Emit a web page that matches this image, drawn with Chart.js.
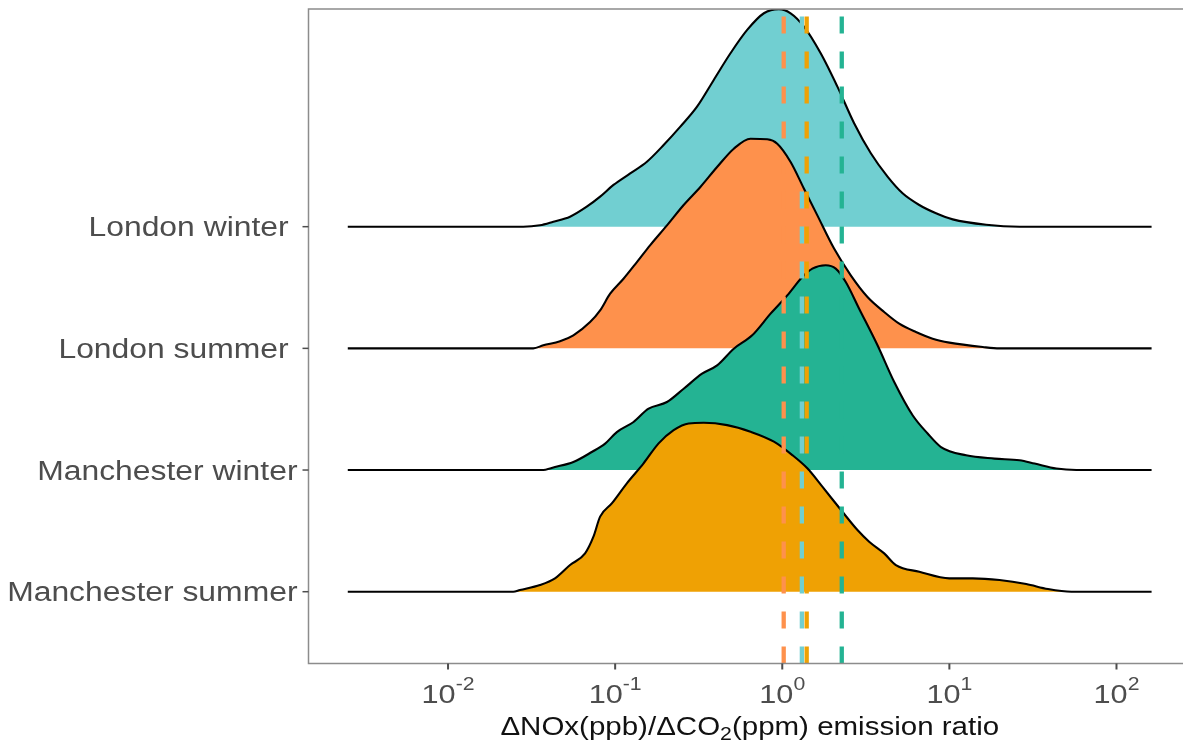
<!DOCTYPE html>
<html>
<head>
<meta charset="utf-8">
<script src="https://cdn.jsdelivr.net/npm/chart.js@4.4.1/dist/chart.umd.min.js"></script>
<style>
  html, body { margin: 0; padding: 0; background: #fff; }
  canvas { display: block; }
</style>
</head>
<body>
<canvas id="ridges" width="1183" height="744"></canvas>
<script>
// rows, top to bottom
const groups = ["London winter ", "London summer ", "Manchester winter", "Manchester summer"];
const rowBase = [3, 2, 1, 0];
const fillColors = ["#71cfd1", "#fe914c", "#24b393", "#efa104"];

// median ΔNOx/ΔCO2 per group (dashed lines)
const medianRatio = [1.31, 1.02, 2.27, 1.40];

// ridge outlines: log10(ratio) and density height in row units
const lwLog = [-2.60, -1.55, -1.45, -1.37, -1.27, -1.17, -1.09, -1.01, -0.91, -0.81, -0.71, -0.61, -0.51, -0.41, -0.31, -0.21, -0.11, -0.02, 0.05, 0.13, 0.23, 0.33, 0.43, 0.53, 0.63, 0.72, 0.82, 0.92, 1.02, 1.22, 1.42, 2.21];
const lwDen = [0, 0, 0.012, 0.041, 0.082, 0.164, 0.247, 0.343, 0.438, 0.534, 0.671, 0.822, 0.986, 1.206, 1.425, 1.617, 1.754, 1.787, 1.754, 1.644, 1.425, 1.151, 0.850, 0.603, 0.411, 0.274, 0.178, 0.110, 0.060, 0.016, 0, 0];

const lsLog = [-2.60, -1.49, -1.43, -1.33, -1.25, -1.15, -1.09, -1.03, -0.95, -0.87, -0.79, -0.69, -0.59, -0.49, -0.39, -0.29, -0.19, -0.09, -0.03, 0.05, 0.13, 0.21, 0.31, 0.41, 0.51, 0.61, 0.70, 0.80, 0.90, 1.00, 1.20, 1.30, 2.21];
const lsDen = [0, 0, 0.025, 0.058, 0.107, 0.216, 0.312, 0.449, 0.572, 0.709, 0.849, 1.011, 1.178, 1.326, 1.490, 1.641, 1.723, 1.718, 1.682, 1.532, 1.312, 1.093, 0.820, 0.600, 0.422, 0.299, 0.203, 0.134, 0.079, 0.047, 0.011, 0, 0];

const mwLog = [-2.60, -1.44, -1.36, -1.25, -1.14, -1.06, -0.99, -0.89, -0.80, -0.69, -0.59, -0.48, -0.39, -0.29, -0.18, -0.07, 0.03, 0.12, 0.18, 0.26, 0.32, 0.38, 0.46, 0.57, 0.67, 0.78, 0.87, 0.95, 1.10, 1.27, 1.42, 1.51, 1.64, 1.76, 2.21];
const mwDen = [0, 0, 0.025, 0.066, 0.148, 0.217, 0.312, 0.395, 0.504, 0.559, 0.668, 0.792, 0.860, 0.997, 1.107, 1.285, 1.435, 1.586, 1.655, 1.683, 1.655, 1.545, 1.326, 1.025, 0.723, 0.450, 0.300, 0.189, 0.121, 0.094, 0.080, 0.053, 0.012, 0, 0];

const msLog = [-2.60, -1.61, -1.57, -1.45, -1.36, -1.27, -1.18, -1.13, -1.09, -1.02, -0.93, -0.83, -0.74, -0.65, -0.56, -0.47, -0.33, -0.19, -0.05, 0.06, 0.15, 0.24, 0.36, 0.45, 0.52, 0.61, 0.68, 0.82, 1.00, 1.14, 1.30, 1.46, 1.59, 1.73, 2.21];
const msDen = [0, 0, 0.014, 0.055, 0.110, 0.219, 0.315, 0.452, 0.617, 0.726, 0.891, 1.055, 1.219, 1.328, 1.383, 1.388, 1.369, 1.315, 1.233, 1.123, 1.014, 0.863, 0.657, 0.507, 0.411, 0.315, 0.219, 0.164, 0.110, 0.110, 0.096, 0.063, 0.022, 0, 0];

const xTickExp = [-2, -1, 0, 1, 2];

const ridgeLogs = [lwLog, lsLog, mwLog, msLog];
const ridgeDens = [lwDen, lsDen, mwDen, msDen];

const FONT = '"Liberation Sans", Arial, sans-serif';
const SX = 1.18; // labels are set a little wide

function wideText(ctx, str, x, y, align) {
    ctx.save();
    ctx.translate(x, y);
    ctx.scale(SX, 1);
    ctx.textAlign = align;
    ctx.fillText(str, 0, 0);
    ctx.restore();
}

function wideWidth(ctx, str) {
    return ctx.measureText(str).width * SX;
}

// upper rows go to the back, lower rows are painted over them
const datasets = groups.map((g, i) => ({
    label: g.trim(),
    data: ridgeLogs[i].map((lx, k) => ({ x: lx, y: rowBase[i] + ridgeDens[i][k] })),
    order: rowBase[i],
    borderColor: "#000",
    borderWidth: 2.1,
    backgroundColor: fillColors[i],
    fill: { value: rowBase[i] },
    pointRadius: 0,
    cubicInterpolationMode: "monotone"
}));

const ridgeFrame = {
    id: "ridgeFrame",
    afterDatasetsDraw(chart) {
        const { ctx, chartArea: area, scales: { x, y } } = chart;
        ctx.save();

        // median lines
        ctx.lineWidth = 4.3;
        ctx.setLineDash([17, 18]);
        medianRatio.forEach((r, i) => {
            const px = x.getPixelForValue(Math.log10(r));
            ctx.strokeStyle = fillColors[i];
            ctx.beginPath();
            ctx.moveTo(px, area.bottom);
            ctx.lineTo(px, area.top);
            ctx.stroke();
        });
        ctx.setLineDash([]);

        // panel outline
        ctx.strokeStyle = "#8c8c8c";
        ctx.lineWidth = 1.5;
        ctx.beginPath();
        ctx.moveTo(area.right, area.top);
        ctx.lineTo(area.left, area.top);
        ctx.lineTo(area.left, area.bottom);
        ctx.lineTo(area.right, area.bottom);
        ctx.stroke();

        // y ticks and group names
        ctx.strokeStyle = "#4d4d4d";
        ctx.fillStyle = "#4d4d4d";
        ctx.font = "27px " + FONT;
        ctx.textBaseline = "alphabetic";
        groups.forEach((g, i) => {
            const py = y.getPixelForValue(rowBase[i]);
            ctx.beginPath();
            ctx.moveTo(area.left - 6, py);
            ctx.lineTo(area.left, py);
            ctx.stroke();
            wideText(ctx, g, area.left - 11, py + 9.7, "right");
        });

        // x ticks, labelled as powers of ten
        ctx.lineWidth = 2;
        xTickExp.forEach(e => {
            const px = x.getPixelForValue(e);
            ctx.beginPath();
            ctx.moveTo(px, area.bottom);
            ctx.lineTo(px, area.bottom + 6);
            ctx.stroke();
            ctx.font = "26px " + FONT;
            const wBase = wideWidth(ctx, "10");
            ctx.font = "18px " + FONT;
            const wExp = wideWidth(ctx, String(e));
            const left = px - (wBase + wExp) / 2;
            ctx.font = "26px " + FONT;
            wideText(ctx, "10", left, 703, "left");
            ctx.font = "18px " + FONT;
            wideText(ctx, String(e), left + wBase, 690, "left");
        });

        // axis title with subscript
        ctx.fillStyle = "#111";
        const partA = "\u0394NOx(ppb)/\u0394CO";
        const partB = "(ppm) emission ratio";
        ctx.font = "25px " + FONT;
        const wA = wideWidth(ctx, partA);
        const wB = wideWidth(ctx, partB);
        ctx.font = "18px " + FONT;
        const wSub = wideWidth(ctx, "2");
        let tx = (area.left + area.right) / 2 - (wA + wSub + wB) / 2 + 4;
        ctx.font = "25px " + FONT;
        wideText(ctx, partA, tx, 735, "left");
        ctx.font = "18px " + FONT;
        wideText(ctx, "2", tx + wA, 740, "left");
        ctx.font = "25px " + FONT;
        wideText(ctx, partB, tx + wA + wSub, 735, "left");

        ctx.restore();
    }
};

new Chart(document.getElementById("ridges"), {
    type: "line",
    data: { datasets },
    options: {
        responsive: false,
        animation: false,
        layout: { padding: { left: 308.5, top: 9, right: 0, bottom: 80.5 } },
        plugins: {
            legend: { display: false },
            tooltip: { enabled: false }
        },
        scales: {
            x: { type: "linear", display: false, min: -2.835, max: 2.398 },
            y: { type: "linear", display: false, min: -0.59, max: 4.789 }
        }
    },
    plugins: [ridgeFrame]
});
</script>
</body>
</html>
